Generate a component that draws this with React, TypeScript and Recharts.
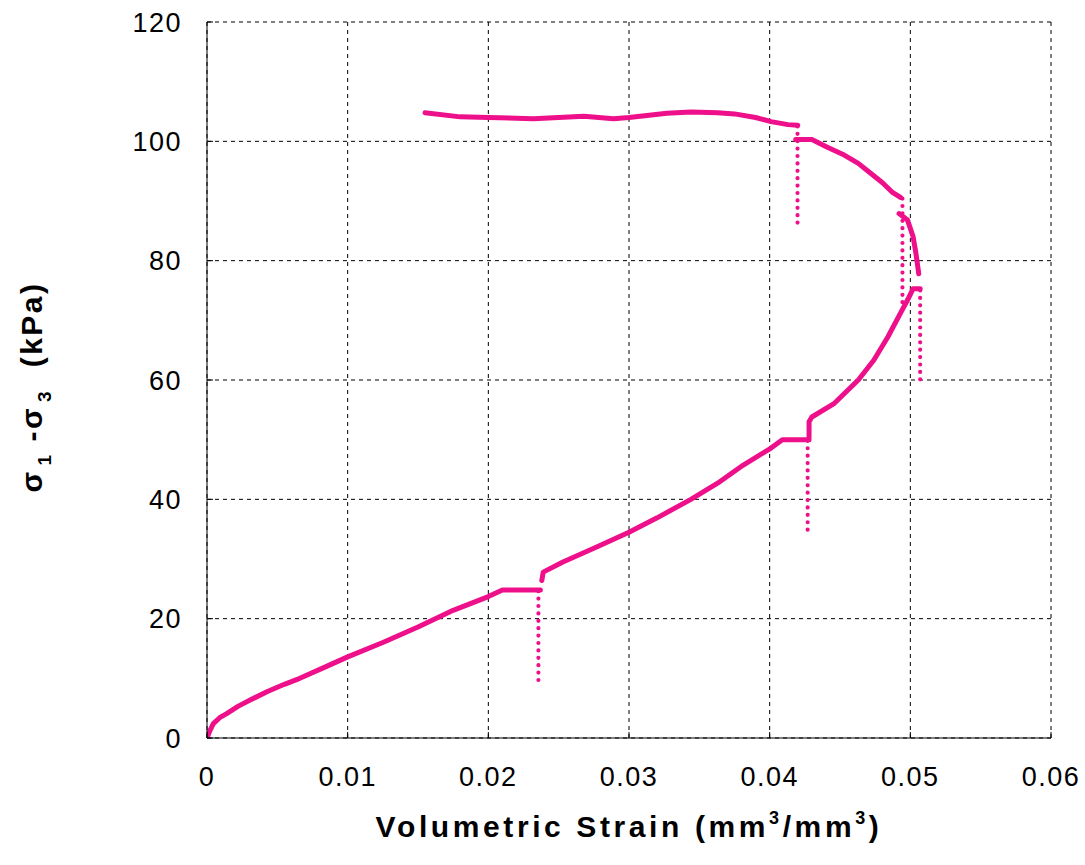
import React from 'react'
import { LineChart, Line, XAxis, YAxis, CartesianGrid } from 'recharts'

// tick values
const xTicks = [0, 0.01, 0.02, 0.03, 0.04, 0.05, 0.06]
const yTicks = [0, 20, 40, 60, 80, 100, 120]

// [volumetric strain, deviator stress kPa]
const loading1 = [
  [0, 0], [0.0002, 1.2], [0.00045, 2.4], [0.0009, 3.4], [0.0014, 4.1], [0.0022, 5.3],
  [0.0031, 6.4], [0.0043, 7.8], [0.0055, 9.0], [0.0066, 10.0], [0.0085, 12.0],
  [0.0100, 13.6], [0.0125, 16.0], [0.0150, 18.6], [0.0175, 21.4], [0.0200, 23.7],
  [0.0210, 24.8], [0.0237, 24.8],
]
const unload1 = [[0.02356, 24.6], [0.02356, 9.7]]
const loading2 = [
  [0.0238, 26.4], [0.0239, 27.8], [0.0253, 29.5], [0.0277, 32.0], [0.0300, 34.5],
  [0.0320, 36.9], [0.0344, 40.0], [0.0363, 42.7], [0.0381, 45.7], [0.0401, 48.6],
  [0.0409, 50.0], [0.0428, 50.0],
]
const unload2 = [[0.0427, 49.8], [0.0427, 34.8]]
const loading3 = [
  [0.0428, 50.4], [0.0428, 53.0], [0.0430, 53.8], [0.0446, 56.1], [0.0463, 60.0],
  [0.0474, 63.3], [0.0484, 67.2], [0.0493, 71.2], [0.0498, 73.4], [0.0502, 75.3],
  [0.0507, 75.3],
]
const unload3 = [[0.0507, 75.0], [0.0507, 60.0]]
const loading4 = [
  [0.0506, 77.8], [0.0504, 81.2], [0.0502, 84.0], [0.0498, 86.8], [0.0492, 87.9],
]
const unload4 = [[0.04944, 90.4], [0.04944, 72.2]]
const loading5 = [
  [0.0493, 90.6], [0.0487, 91.5], [0.0480, 93.1], [0.0472, 94.6], [0.0463, 96.3],
  [0.0453, 97.7], [0.0441, 99.0], [0.0430, 100.3], [0.04185, 100.3],
]
const unload5 = [[0.04198, 102.5], [0.04198, 85.2]]
const loading6 = [
  [0.0420, 102.7], [0.0413, 102.8], [0.0401, 103.3], [0.0390, 104.0], [0.0375, 104.6],
  [0.0363, 104.8], [0.0344, 104.9], [0.0327, 104.7], [0.0300, 104.0], [0.0289, 103.8],
  [0.0268, 104.2], [0.0232, 103.8], [0.0200, 104.0], [0.0180, 104.1], [0.0155, 104.8],
]

const solidSegments = [loading1, loading2, loading3, loading4, loading5, loading6]
const dottedSegments = [unload1, unload2, unload3, unload4, unload5]

const PINK = '#ee0f8a'
const FONT = '"Liberation Sans", Arial, sans-serif'

const toPoints = (seg: number[][]) => seg.map(([x, y]) => ({ x, y }))

const supStyle = { fontSize: 18, verticalAlign: 13, lineHeight: 0 }
const subStyle = { fontSize: 19, verticalAlign: -9, lineHeight: 0, marginLeft: 4 }

export default function App() {
  return (
    <div style={{ position: 'absolute', left: 0, top: 0, width: 1085, height: 865, background: '#fff', fontFamily: FONT }}>
      <LineChart width={1085} height={865} margin={{ top: 22, right: 34, left: 127, bottom: 67 }}>
        <CartesianGrid stroke="#000" strokeDasharray="4 4" strokeWidth={1} />
        <XAxis
          type="number"
          dataKey="x"
          domain={[0, 0.06]}
          ticks={xTicks}
          allowDataOverflow
          height={60}
          stroke="#000"
          tickSize={-6}
          tickMargin={35}
          tick={{ fontSize: 27, fill: '#000', fontFamily: FONT, letterSpacing: 1.5 }}
          tickFormatter={(v: number) => (v === 0 ? '0' : v.toFixed(2))}
        />
        <YAxis
          type="number"
          dataKey="y"
          domain={[0, 120]}
          ticks={yTicks}
          allowDataOverflow
          width={80}
          stroke="#000"
          tickSize={-6}
          tickMargin={31}
          tick={{ fontSize: 27, fill: '#000', fontFamily: FONT, letterSpacing: 1.5 }}
        />
        {solidSegments.map((seg, i) => (
          <Line
            key={'s' + i}
            data={toPoints(seg)}
            dataKey="y"
            type="linear"
            stroke={PINK}
            strokeWidth={5}
            strokeLinecap="round"
            strokeLinejoin="round"
            dot={false}
            activeDot={false}
            isAnimationActive={false}
          />
        ))}
        {dottedSegments.map((seg, i) => (
          <Line
            key={'d' + i}
            data={toPoints(seg)}
            dataKey="y"
            type="linear"
            stroke={PINK}
            strokeWidth={4.2}
            strokeDasharray="0 7.4"
            strokeLinecap="round"
            dot={false}
            activeDot={false}
            isAnimationActive={false}
          />
        ))}
      </LineChart>
      <div
        style={{
          position: 'absolute', left: 207, width: 844, top: 812, lineHeight: '30px',
          textAlign: 'center', fontSize: 30, fontWeight: 'bold', letterSpacing: 3.6, whiteSpace: 'nowrap',
        }}
      >
        Volumetric Strain (mm<sup style={supStyle}>3</sup>/mm<sup style={supStyle}>3</sup>)
      </div>
      <div
        style={{
          position: 'absolute', left: -118, top: 372, width: 300, height: 30, lineHeight: '30px',
          textAlign: 'center', fontSize: 30, fontWeight: 'bold', letterSpacing: 2.5, whiteSpace: 'nowrap',
          transform: 'rotate(-90deg)',
        }}
      >
        σ<sub style={subStyle}>1</sub> -σ<sub style={subStyle}>3</sub>{'\u00a0\u00a0'}(kPa)
      </div>
    </div>
  )
}
